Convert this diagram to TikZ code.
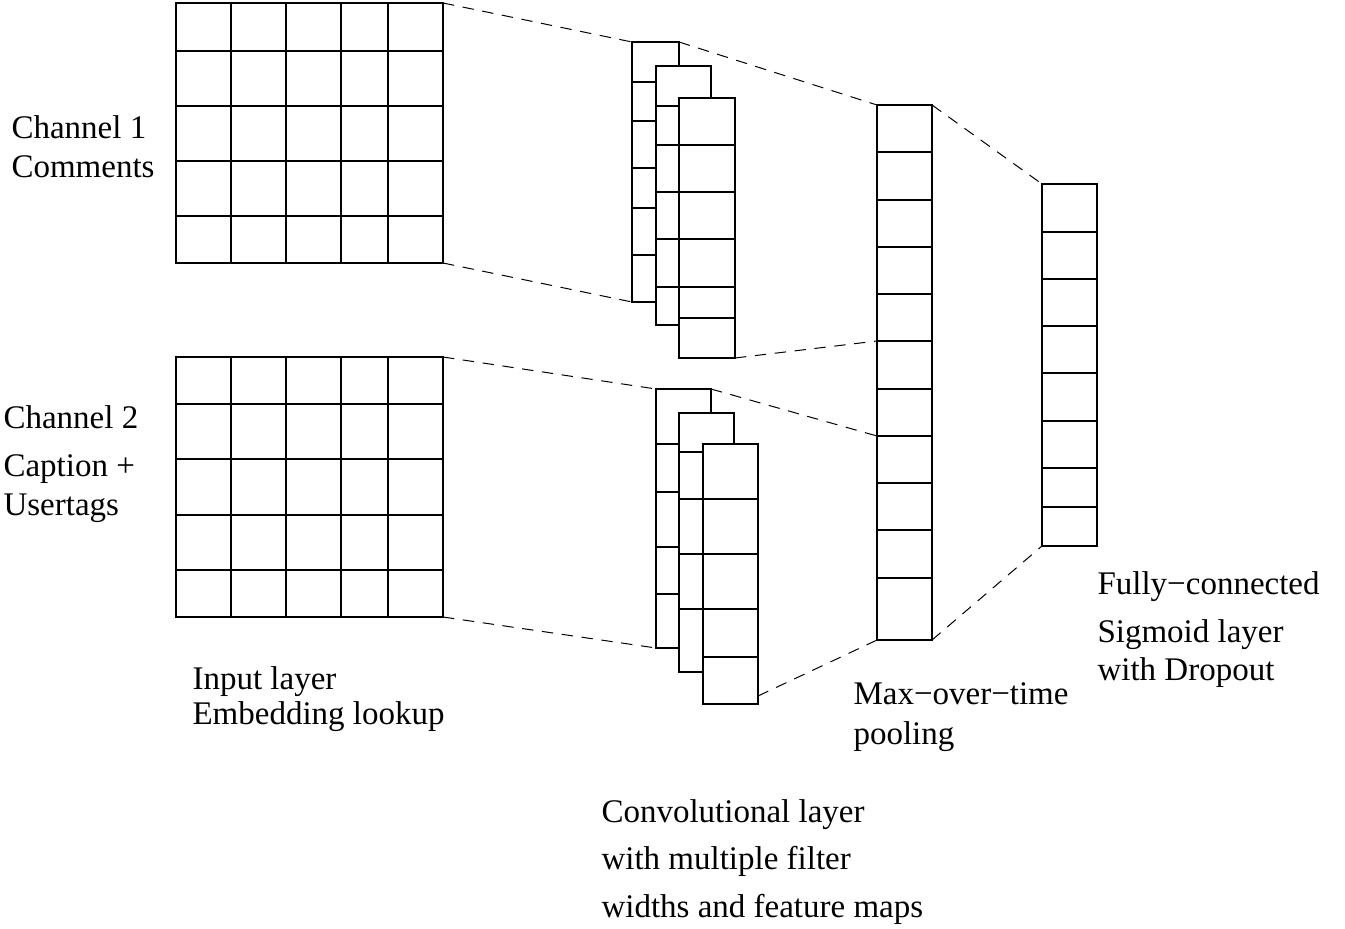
\documentclass[tikz,border=0pt]{standalone}
\usepackage{fontspec}
\setmainfont{Liberation Serif}
\begin{document}
\begin{tikzpicture}[x=0.75pt,y=-0.75pt, line width=0.8pt,
  box/.style={draw, fill=white, inner sep=0pt, outer sep=0pt, anchor=north west},
  conn/.style={dash pattern=on 8.5pt off 6.5pt, line width=0.75pt},
  lbl/.style={font=\fontsize{24.75pt}{30pt}\selectfont, anchor=base west, inner sep=0pt}]
\useasboundingbox (0,0) rectangle (1345,928);

% ---------- input grids ----------
\node[box, minimum width=267*0.75pt, minimum height=260*0.75pt] (g1) at (176,3) {};
\foreach \x in {231,286,341,388} \draw (\x,3) -- (\x,263);
\foreach \y in {51,106,161,216} \draw (176,\y) -- (443,\y);

\node[box, minimum width=267*0.75pt, minimum height=260*0.75pt] (g2) at (176,357) {};
\foreach \x in {231,286,341,388} \draw (\x,357) -- (\x,617);
\foreach \y in {404,459,515,570} \draw (176,\y) -- (443,\y);

% ---------- conv stack 1 ----------
\node[box, minimum width=47*0.75pt, minimum height=260*0.75pt] (c1b) at (632,42) {};
\foreach \y in {82,121,168,208,255} \draw (632,\y) -- (679,\y);
\node[box, minimum width=55*0.75pt, minimum height=259*0.75pt] (c1m) at (656,66) {};
\foreach \y in {106,145,192,239,287} \draw (656,\y) -- (711,\y);
\node[box, minimum width=56*0.75pt, minimum height=260*0.75pt] (c1f) at (679,98) {};
\foreach \y in {145,192,239,287,318} \draw (679,\y) -- (735,\y);

% ---------- conv stack 2 ----------
\node[box, minimum width=55*0.75pt, minimum height=259*0.75pt] (c2b) at (656,389) {};
\foreach \y in {444,492,547,594} \draw (656,\y) -- (711,\y);
\node[box, minimum width=55*0.75pt, minimum height=259*0.75pt] (c2m) at (679,413) {};
\foreach \y in {452,499,554,609} \draw (679,\y) -- (734,\y);
\node[box, minimum width=55*0.75pt, minimum height=260*0.75pt] (c2f) at (703,444) {};
\foreach \y in {499,554,609,657} \draw (703,\y) -- (758,\y);

% ---------- max pooling ----------
\node[box, minimum width=55*0.75pt, minimum height=535*0.75pt] (pool) at (877,105) {};
\foreach \y in {152,200,247,294,341,389,436,483,530,578} \draw (877,\y) -- (932,\y);

% ---------- fully connected ----------
\node[box, minimum width=55*0.75pt, minimum height=362*0.75pt] (fc) at (1042,184) {};
\foreach \y in {232,279,326,373,421,468,507} \draw (1042,\y) -- (1097,\y);

% ---------- connectors ----------
\coordinate (p1) at (877,341);
\coordinate (p2) at (877,436);
\coordinate (c2out) at (758,696);
\draw[conn] (g1.north east) -- (c1b.north west);
\draw[conn] (g1.south east) -- (c1b.south west);
\draw[conn] (c1b.north east) -- (pool.north west);
\draw[conn] (c1f.south east) -- (p1);
\draw[conn] (g2.north east) -- (c2b.north west);
\draw[conn] (g2.south east) -- (c2b.south west);
\draw[conn] (c2b.north east) -- (p2);
\draw[conn] (c2out) -- (pool.south west);
\draw[conn] (pool.north east) -- (fc.north west);
\draw[conn] (pool.south east) -- (fc.south west);

% ---------- labels ----------
\node[lbl] (ch1a) at (11,138) {Channel 1};
\node[lbl] (ch1b) at (11,177) {Comments};
\node[lbl] (ch2a) at (3,428) {Channel 2};
\node[lbl] (ch2b) at (3,476) {Caption +};
\node[lbl] (ch2c) at (3,515) {Usertags};
\node[lbl] (ina) at (192,689) {Input layer};
\node[lbl] (inb) at (192,724) {Embedding lookup};
\node[lbl] (cva) at (601,822) {Convolutional layer};
\node[lbl] (cvb) at (601,869) {with multiple filter};
\node[lbl] (cvc) at (601,917) {widths and feature maps};
\node[lbl] (mpa) at (853,704) {Max−over−time};
\node[lbl] (mpb) at (853,744) {pooling};
\node[lbl] (fca) at (1097,594) {Fully−connected};
\node[lbl] (fcb) at (1097,642) {Sigmoid layer};
\node[lbl] (fcc) at (1097,680) {with Dropout};
\end{tikzpicture}
\end{document}
